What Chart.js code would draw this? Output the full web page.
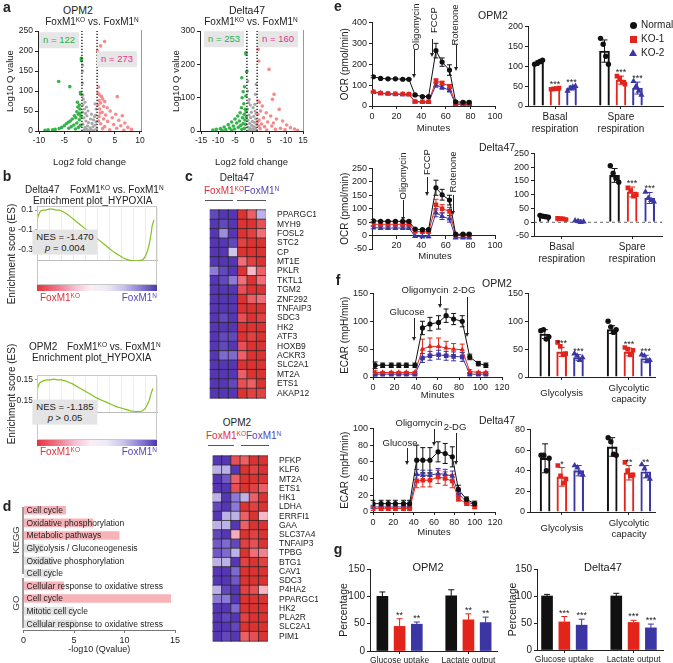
<!DOCTYPE html>
<html>
<head>
<meta charset="utf-8">
<script src="https://cdn.jsdelivr.net/npm/chart.js@4.4.1/dist/chart.umd.min.js"></script>
<style>
  body { margin: 0; width: 673px; height: 663px; position: relative; background: #fff; overflow: hidden;
         font-family: "Liberation Sans", Arial, sans-serif; color: #222; }
  canvas { position: absolute; }
  .t { position: absolute; white-space: nowrap; line-height: 1; }
  .s { font-size: 65%; position: relative; top: -0.45em; }
</style>
</head>
<body>
<script>
// ---------------- data ----------------
// a: volcano points [log2 fold change, log10 Q]
const opmDown = [[-6.1,124],[-3.9,111],[-1.6,182],[-1.6,176],[-1.8,96],[-1.7,92],[-2.4,72],[-2.0,65],[-2.3,60],[-1.9,55],[-2.5,48],[-1.9,44],[-2.2,42],[-3.0,38],[-1.7,36],[-2.7,33],[-3.4,30],[-2.0,28],[-3.8,25],[-4.2,22],[-2.5,20],[-4.6,18],[-3.1,15],[-1.8,14],[-5.0,13],[-3.6,11],[-5.5,9],[-2.2,9],[-4.1,7],[-6.0,6],[-2.8,5],[-6.8,4],[-7.3,3],[-8.2,3],[-8.8,2]];
const opmNs = [[-1.35,165],[-1.4,150],[-1.4,120],[-1.3,90],[-1.2,80],[-0.9,72],[-1.3,65],[-0.6,60],[-1.0,55],[-0.3,50],[-1.4,47],[-0.8,44],[0.4,42],[1.2,40],[-0.5,38],[1.0,36],[-1.1,33],[0.2,30],[0.8,28],[-0.7,25],[1.3,23],[-0.2,21],[0.5,19],[-1.3,17],[1.1,15],[-0.4,13],[0.7,11],[-0.9,9],[0.1,8],[1.4,6],[-0.6,5],[0.3,4],[-1.1,3],[0.9,2],[-0.1,1],[0.6,1],[-0.5,2],[1.3,55],[1.1,68]];
const opmUp = [[1.6,200],[2.2,213],[3.0,224],[1.8,110],[5.5,86],[1.7,95],[2.0,90],[2.4,86],[2.6,80],[1.9,76],[3.0,74],[2.2,70],[1.7,65],[2.8,62],[3.5,58],[2.0,55],[4.1,50],[2.5,47],[2.1,45],[5.2,42],[3.2,40],[6.5,38],[1.9,36],[4.5,33],[2.8,30],[5.8,27],[1.8,25],[3.6,24],[7.0,20],[2.2,18],[4.8,16],[6.2,13],[3.0,11],[7.6,9],[5.4,7],[2.6,6],[8.3,4],[4.0,3],[6.8,2]];
const dltDown = [[-3.0,160],[-1.8,235],[-1.8,231],[-1.6,178],[-2.2,133],[-2.6,118],[-1.8,105],[-2.9,100],[-2.4,82],[-3.1,70],[-2.0,65],[-1.7,58],[-3.5,55],[-2.3,50],[-4.2,45],[-1.7,42],[-2.8,40],[-5.0,36],[-2.1,33],[-3.7,30],[-6.0,27],[-4.5,24],[-2.6,22],[-1.9,20],[-7.0,19],[-3.3,17],[-5.5,15],[-8.2,12],[-4.0,11],[-6.6,9],[-2.2,8],[-9.3,7],[-5.1,6],[-3.0,5],[-10.5,5],[-7.7,4],[-11.5,3],[-6.0,3],[-8.8,2]];
const dltNs = [[-1.4,180],[-1.2,150],[1.2,140],[-1.3,120],[1.0,110],[-0.8,95],[-1.0,85],[0.8,80],[-0.5,78],[0.3,70],[-1.3,66],[0.9,60],[-0.2,56],[1.2,52],[-0.9,48],[0.5,44],[-0.4,40],[1.1,36],[-1.2,32],[0.1,29],[0.7,26],[-0.7,23],[1.3,20],[-0.1,17],[0.4,14],[-1.1,12],[0.9,10],[-0.5,8],[0.2,6],[1.2,4],[-0.8,3],[0.6,2],[-0.3,1]];
const dltUp = [[1.8,245],[2.0,210],[5.0,185],[6.5,110],[6.0,95],[1.8,90],[2.2,86],[3.0,75],[8.0,65],[2.5,60],[4.2,55],[1.7,50],[5.5,45],[3.4,40],[7.2,36],[2.1,33],[9.0,30],[1.7,28],[4.6,27],[6.3,24],[2.8,21],[10.2,18],[2.0,15],[5.8,15],[3.7,13],[11.3,10],[8.4,8],[2.4,7],[12.5,6],[6.9,5],[9.7,4],[4.3,3],[13.4,2]];
const foldCut = 1.5;
const opmXTicks = [-10, -5, 0, 5, 10];
const opmXLabels = ['-10', '-5', '0', '5', '10'];
const dltXTicks = [-15, -10, -5, 0, 5, 10, 15];
const dltXLabels = ['-15', '-10', '-5', '0', '5', '-10', '15'];

// b: GSEA running enrichment score (rank %) and hit positions
const dltEsX = [0,1,2,3,5,7,10,13,16,19,22,25,28,32,36,40,44,48,52,56,60,64,68,72,76,80,84,88,90,92,93.5,95,96,97.5];
const dltEsY = [0,0.04,0.07,0.09,0.1,0.1,0.11,0.11,0.1,0.1,0.08,0.06,0.03,-0.01,-0.05,-0.09,-0.13,-0.17,-0.21,-0.25,-0.29,-0.33,-0.36,-0.39,-0.41,-0.42,-0.42,-0.41,-0.38,-0.32,-0.25,-0.15,-0.06,0.0];
const dltHits = [0.5,1.2,2,3.1,3.8,4.5,5.6,6.3,7.5,8.2,9,10.4,11.2,12.5,13.1,14.6,15.8,17,18.3,19.5,21,22.4,23.8,25.5,27,28.6,30.4,32,34.5,36.8,39,41.5,44,47,50.5,53,56,58.5,61,63.5,66,68,70.5,72.8,75,77,79,81,82.5,84,85.5,86.8,88,89.2,90.3,91.4,92.3,93.2,94,94.8,95.5,96.2,96.8,97.4];
const dltEsTicks = [0.1, 0.0, -0.1, -0.2, -0.3, -0.4];
const opmEsX = [0,1,2,4,6,8,11,14,17,20,23,26,30,34,38,42,46,50,54,58,62,66,70,74,78,82,86,88,90,92,93.5,95,96.5];
const opmEsY = [0,0.05,0.09,0.12,0.13,0.14,0.14,0.15,0.14,0.14,0.13,0.11,0.08,0.04,0,-0.04,-0.08,-0.12,-0.15,-0.18,-0.21,-0.24,-0.26,-0.28,-0.3,-0.31,-0.31,-0.3,-0.27,-0.21,-0.15,-0.06,0.02];
const opmHits = [0.8,1.5,2.4,3.2,4.1,5,5.9,6.8,7.9,9.1,10.3,11.5,12.8,14,15.5,17.2,18.8,20.6,22.5,24.3,26.4,28.7,31,33.6,36.2,39,42,45.1,48.5,52,55,58,61.5,64.5,67.2,70,72.6,75,77.3,79.5,81.4,83.2,84.8,86.3,87.7,89,90.1,91.2,92.2,93.1,94,94.8,95.6,96.3];
const opmEsTicks = [0.15, 0.0, -0.15, -0.30];

// c: heatmaps, z-score per sample (KO x3, N x3)
const dltGenes = ['PPARGC1A','MYH9','FOSL2','STC2','CP','MT1E','PKLR','TKTL1','TGM2','ZNF292','TNFAIP3','SDC3','HK2','ATF3','HOXB9','ACKR3','SLC2A1','MT2A','ETS1','AKAP12'];
const dltZ = [
  [-0.8,-0.9,-0.9,0.9,0.6,-0.2],[-0.9,-0.8,-0.9,0.9,0.9,0.7],[-0.9,-0.4,-0.9,0.9,0.8,0.5],[-0.9,-0.9,-0.8,0.8,0.9,0.9],
  [-0.9,-0.9,-0.1,0.9,0.9,0.9],[-0.9,-0.9,-0.9,0.5,0.8,0.9],[-0.5,-0.8,-0.9,0.9,0.15,0.6],[-0.9,-0.8,-0.5,0.5,0.9,0.5],
  [-0.9,-0.9,-0.9,0.7,0.9,0.9],[-0.9,-0.9,-0.9,0.9,0.6,0.5],[-0.9,-0.9,-0.9,0.9,0.9,0.9],[-0.9,-0.8,-0.9,0.7,0.9,0.8],
  [-0.9,-0.9,-0.9,0.9,0.9,0.9],[-0.9,-0.8,-0.8,0.9,0.8,0.9],[-0.9,-0.8,-0.9,0.7,0.9,0.9],[-0.9,-0.6,-0.6,0.6,0.9,0.9],
  [-0.9,-0.9,-0.9,0.9,0.9,0.9],[-0.9,-0.9,-0.9,0.6,0.9,0.9],[-0.9,-0.9,-0.8,0.7,0.6,0.9],[-0.9,-0.9,-0.9,0.9,0.8,0.8]];
const opmGenes = ['PFKP','KLF6','MT2A','ETS1','HK1','LDHA','ERRFI1','GAA','SLC37A4','TNFAIP3','TPBG','BTG1','CAV1','SDC3','P4HA2','PPARGC1A','HK2','PLA2R','SLC2A1','PIM1'];
const opmZ = [
  [-0.9,-0.9,0.7,0.6,0.9,0.9],[-0.2,-0.2,-0.9,0.9,0.8,0.9],[-0.9,-0.7,0.6,0.9,0.9,0.9],[-0.9,-0.9,0.7,0.9,0.8,0.6],
  [-0.2,-0.9,-0.5,-0.2,0.6,0.9],[-0.8,-0.9,-0.5,0.9,0.8,0.9],[-0.9,-0.2,-0.2,0.6,0.9,0.15],[-0.2,-0.2,-0.9,0.6,0.9,0.9],
  [-0.8,-0.9,0.2,0.9,0.8,0.9],[-0.7,-0.6,-0.8,0.8,0.7,0.9],[-0.7,-0.6,-0.2,0.9,0.5,0.4],[-0.2,-0.2,-0.9,0.8,0.9,0.8],
  [-0.9,-0.9,-0.6,0.9,0.9,0.9],[-0.9,-0.9,-0.7,0.9,0.9,0.9],[-0.2,-0.8,-0.9,0.8,0.7,0.15],[-0.5,-0.5,-0.9,0.9,0.9,0.9],
  [-0.9,-0.9,-0.6,0.9,0.9,0.9],[-0.9,-0.8,-0.9,0.8,0.9,0.9],[-0.9,-0.9,-0.8,0.9,0.9,0.9],[-0.9,-0.8,-0.9,0.6,0.7,0.9]];

// d: enrichment terms
const dTerms = ['Cell cycle','Oxidative phosphorylation','Metabolic pathways','Glycolysis / Gluconeogenesis','Oxidative phosphorylation','Cell cycle','Cellular response to oxidative stress','Cell cycle','Mitotic cell cycle','Cellular response to oxidative stress'];
const dVals = [4.2, 6.9, 9.5, 2.0, 3.0, 3.0, 4.0, 14.6, 5.0, 5.3];
const dDir = ['up','up','up','down','down','down','up','up','down','down'];

// e: OCR time courses (Normal, KO-1, KO-2)
const ocrT = [1,7,13,19,25,30,35,41,46,52,57,63,68,74,79];
const ocrOpm = [[140,132,130,130,128,128,53,45,45,265,210,172,20,18,18],[68,62,60,58,57,56,22,20,20,120,110,95,10,10,10],[66,60,58,56,55,55,20,19,19,100,90,75,8,8,8]];
const ocrOpmSd = [[5,3,3,3,3,3,4,4,4,35,20,25,5,5,5],[4,3,3,3,3,3,3,3,3,10,8,8,3,3,3],[4,3,3,3,3,3,3,3,3,10,10,8,3,3,3]];
const ocrDlt = [[55,53,53,53,53,53,24,22,22,178,152,132,5,5,5],[42,42,42,42,42,42,15,14,14,115,100,90,2,2,2],[30,28,28,28,28,28,-3,-4,-4,85,72,62,-8,-8,-8]];
const ocrDltSd = [[4,3,3,3,3,3,3,3,3,28,20,18,3,3,3],[5,5,5,5,5,5,4,4,4,20,15,15,3,3,3],[5,5,5,5,5,5,4,4,4,15,12,12,3,3,3]];
// bars: Basal N, KO-1, KO-2, Spare N, KO-1, KO-2
const ocrOpmMean = [110, 43, 45, 138, 65, 45];
const ocrOpmBarSd = [4, 3, 5, 28, 10, 15];
const ocrOpmReps = [[105,107,112,115],[42,43,44,45],[38,45,48,50],[170,155,125,105],[75,70,60,55],[62,50,38,28]];
const ocrDltMean = [22, 12, 3, 170, 110, 88];
const ocrDltBarSd = [5, 3, 5, 25, 18, 20];
const ocrDltReps = [[25,22,20,18],[14,13,12,10],[6,4,0,2],[205,178,160,145],[125,115,95,100],[110,88,80,75]];
const ocrSigOpm = ['', '***', '***', '', '***', '***'];
const ocrSigDlt = ['', '', '', '', '***', '***'];
const ocrLabels = [['Basal', 'respiration'], ['Spare', 'respiration']];

// f: ECAR time courses
const ecarOpmT = [2,9,17,24,31,39,46,53,61,68,75,83,90,98,105];
const ecarOpm = [[21,21,21,21,21,21,88,95,98,110,104,100,36,24,21],[8,8,8,8,8,8,50,55,55,52,50,49,10,8,8],[5,5,5,5,5,5,34,38,40,38,37,36,5,5,5]];
const ecarOpmSd = [[6,4,4,4,4,4,12,12,12,12,10,10,5,4,4],[3,2,2,2,2,2,18,15,15,12,10,10,3,2,2],[3,2,2,2,2,2,8,8,8,8,8,8,2,2,2]];
const ecarDltT = [0,8,15,22,30,36,43,49,56,64,71,78,84,92,100];
const ecarDlt = [[10,10,10,10,10,10,62,62,62,72,70,66,27,15,10],[4,4,4,4,4,4,37,38,38,42,40,37,16,10,6],[6,6,6,6,6,6,45,44,44,46,45,43,22,12,9]];
const ecarDltSd = [[4,4,4,4,4,4,18,15,15,12,12,12,5,3,3],[2,2,2,2,2,2,8,8,8,8,8,8,3,2,2],[2,2,2,2,2,2,6,6,6,6,6,6,3,2,2]];
const ecarOpmMean = [77, 45, 35, 85, 45, 33];
const ecarOpmBarSd = [8, 8, 5, 7, 7, 6];
const ecarOpmReps = [[83,85,68,72],[62,55,40,42],[42,38,30,35],[100,90,80,85],[53,50,40,48],[40,38,28,30]];
const ecarDltMean = [52, 34, 40, 63, 38, 39];
const ecarDltBarSd = [14, 9, 5, 9, 7, 6];
const ecarDltReps = [[55,55,40,52],[45,35,28,32],[45,43,38,36],[72,68,56,55],[48,40,35,36],[46,42,35,32]];
const ecarSigOpm = ['', '***', '***', '', '***', '***'];
const ecarSigDlt = ['', '*', '', '', '**', '**'];
const ecarLabels = ['Glycolysis', ['Glycolytic', 'capacity']];

// g: glucose uptake / lactate output (%)
const gOpmMean = [100, 45, 49, 101, 57, 52];
const gOpmSd = [8, 14, 4, 11, 11, 10];
const gDltMean = [100, 52, 46, 100, 51, 41];
const gDltSd = [3, 10, 11, 5, 4, 7];
const gSigOpm = ['', '**', '**', '', '**', '**'];
const gSigDlt = ['', '***', '***', '', '***', '***'];
const gLabels = ['Glucose uptake', 'Lactate output'];

// ---------------- helpers ----------------
const RED = '#e3241b', BLUE = '#3b36a3', BLK = '#111';
const FONT = '"Liberation Sans", Arial, sans-serif';
Chart.defaults.font.family = FONT;
Chart.defaults.font.size = 9;
Chart.defaults.color = '#222';
Chart.defaults.plugins.legend.display = false;
Chart.defaults.plugins.tooltip.enabled = false;

const W = n => s => { s.width = n; };
const H = n => s => { s.height = n; };

function T(x, y, html, o = {}) {
  const d = document.createElement('div');
  d.className = 't';
  d.innerHTML = html;
  d.style.left = x + 'px';
  d.style.top = y + 'px';
  d.style.fontSize = (o.size || 10) + 'px';
  if (o.color) d.style.color = o.color;
  if (o.bold) d.style.fontWeight = 'bold';
  if (o.bg) { d.style.background = o.bg; d.style.padding = o.pad || '3px 4px'; d.style.textAlign = 'center'; d.style.lineHeight = o.lh || '1'; }
  const ax = o.align === 'left' ? '0' : o.align === 'right' ? '-100%' : '-50%';
  d.style.transform = 'translate(' + ax + ',-50%)' + (o.rot ? ' rotate(' + o.rot + 'deg)' : '');
  document.body.appendChild(d);
  return d;
}
function box(x, y, w, h, css) {
  const d = document.createElement('div');
  Object.assign(d.style, { position: 'absolute', left: x + 'px', top: y + 'px', width: w + 'px', height: h + 'px' }, css);
  document.body.appendChild(d);
  return d;
}
function arrow(x, y1, y2) {
  box(x - 0.5, y1, 1, y2 - y1 - 3, { background: '#222' });
  box(x - 2.5, y2 - 4, 0, 0, { borderLeft: '2.5px solid transparent', borderRight: '2.5px solid transparent', borderTop: '4px solid #222' });
}
function sym(x, y, kind, col) {
  if (kind === 'circle') box(x - 3.5, y - 3.5, 7, 7, { background: col, borderRadius: '50%' });
  else if (kind === 'rect') box(x - 3.5, y - 3.5, 7, 7, { background: col });
  else box(x - 4, y - 4, 0, 0, { borderLeft: '4px solid transparent', borderRight: '4px solid transparent', borderBottom: '7px solid ' + col });
}
const fox = s => 'FoxM1<span class="s">' + s + '</span>';

function place(b, cfg) {
  const c = document.createElement('canvas');
  c.width = b.x1 - b.x0 + b.l + b.r;
  c.height = b.y1 - b.y0 + b.t + b.b;
  c.style.left = (b.x0 - b.l) + 'px';
  c.style.top = (b.y0 - b.t) + 'px';
  document.body.appendChild(c);
  cfg.options = Object.assign({ responsive: false, animation: false, maintainAspectRatio: false }, cfg.options);
  return new Chart(c, cfg);
}

function axis(o) {
  const s = {
    type: 'linear', min: o.min, max: o.max, offset: false,
    grid: { drawOnChartArea: false, tickLength: 3, color: o.col || '#222', offset: false },
    border: { color: o.col || '#222', width: 1, dash: o.dash || [] },
    ticks: { font: { size: o.fs || 9 }, color: '#222', padding: o.tp || 2, stepSize: o.step, autoSkip: false, maxRotation: 0 },
  };
  if (o.fit) s.afterFit = o.fit;
  if (o.pos) s.position = o.pos;
  if (o.cross) s.ticks.crossAlign = o.cross;
  if (o.vals) s.afterBuildTicks = sc => { sc.ticks = o.vals.map(v => ({ value: v })); };
  if (o.fmt) s.ticks.callback = o.fmt;
  if (o.title) s.title = { display: true, text: o.title, color: '#222', font: { size: o.tfs || 9.5 }, padding: o.tpad || 0 };
  return s;
}

// error bars (and significance stars) drawn from each dataset's err array
function drawErr(chart, behind) {
  const ctx = chart.ctx;
  chart.data.datasets.forEach((ds, i) => {
    if (!ds.err || !!ds.errBehind !== behind) return;
    const meta = chart.getDatasetMeta(i);
    const ys = chart.scales[meta.yAxisID];
    meta.data.forEach((el, j) => {
      const e = ds.err[j];
      if (e == null) return;
      const v = ds.data[j].y;
      const col = Array.isArray(ds.errColor) ? ds.errColor[j] : ds.errColor;
      const top = ys.getPixelForValue(v + e);
      const bot = ds.errUp ? el.y : ys.getPixelForValue(v - e);
      const cw = ds.capW || 2.5;
      ctx.save();
      ctx.strokeStyle = col;
      ctx.lineWidth = 1;
      ctx.beginPath();
      ctx.moveTo(el.x, top); ctx.lineTo(el.x, bot);
      ctx.moveTo(el.x - cw, top); ctx.lineTo(el.x + cw, top);
      if (!ds.errUp) { ctx.moveTo(el.x - cw, bot); ctx.lineTo(el.x + cw, bot); }
      ctx.stroke();
      if (ds.sig && ds.sig[j]) {
        ctx.fillStyle = '#222';
        ctx.font = '9px ' + FONT;
        ctx.textAlign = 'center';
        ctx.textBaseline = 'bottom';
        ctx.fillText(ds.sig[j], el.x, top + 1);
      }
      ctx.restore();
    });
  });
}
Chart.register({
  id: 'errBars',
  beforeDatasetsDraw(chart) { drawErr(chart, true); },
  afterDatasetsDraw(chart) { drawErr(chart, false); }
});

// ---------------- panel a ----------------
function volcano(b, down, ns, up, o) {
  const pts = a => a.map(p => ({ x: p[0], y: p[1] }));
  const cut = s => ({ type: 'line', data: [{ x: s * foldCut, y: 0 }, { x: s * foldCut, y: o.max }], borderColor: '#111',
    borderWidth: 1.3, borderDash: [1.3, 1.7], pointRadius: 0, order: 0 });
  place(b, {
    type: 'scatter',
    data: { datasets: [
      { data: pts(up), backgroundColor: '#f68b8b', pointRadius: 1.8, borderWidth: 0, order: 2 },
      { data: pts(down), backgroundColor: '#35b44a', pointRadius: 1.8, borderWidth: 0, order: 1 },
      { data: pts(ns), backgroundColor: '#a8a8a8', pointRadius: 1.6, borderWidth: 0, order: 3 },
      cut(-1), cut(1)
    ] },
    options: {
      layout: { padding: { left: 0, top: b.t, right: b.r, bottom: 0 } },
      scales: {
        x: axis({ min: o.xmin, max: o.xmax, vals: o.xv, fmt: (v, i) => o.xl[i], fit: H(b.b), dash: [1.3, 1.7], fs: 8.5, title: 'Log2 fold change' }),
        y: axis({ min: 0, max: o.max, step: o.step, fit: W(b.l), fs: 8.5, title: 'Log10 Q value' })
      }
    }
  });
  box(b.x1, b.y0, 1, b.y1 - b.y0, { background: '#999' });
}
volcano({ x0: 38, y0: 30, x1: 141, y1: 131, l: 33, r: 8, t: 6, b: 37 }, opmDown, opmNs, opmUp,
  { xmin: -10.2, xmax: 10.2, max: 250, step: 50, xv: opmXTicks, xl: opmXLabels });
volcano({ x0: 200, y0: 30, x1: 303, y1: 131, l: 29, r: 8, t: 6, b: 37 }, dltDown, dltNs, dltUp,
  { xmin: -15.3, xmax: 15, max: 300, step: 100, xv: dltXTicks, xl: dltXLabels });

T(78, 10, 'OPM2', { size: 10.5 });
T(92, 22, fox('KO') + ' vs. ' + fox('N'), { size: 10 });
T(247, 10, 'Delta47', { size: 10.5 });
T(251, 22, fox('KO') + ' vs. ' + fox('N'), { size: 10 });
T(59, 40, 'n = 122', { size: 9.5, color: '#2fae48', bg: '#e6e6e6' });
T(117, 59, 'n = 273', { size: 9.5, color: '#e3348c', bg: '#e6e6e6' });
T(224, 39, 'n = 253', { size: 9.5, color: '#2fae48', bg: '#e6e6e6' });
T(278, 39, 'n = 160', { size: 9.5, color: '#e3348c', bg: '#e6e6e6' });

// ---------------- panel b ----------------
function gsea(b, xs, es, yMin, yMax, ticks, dec) {
  place(b, {
    type: 'scatter',
    data: { datasets: [{ data: xs.map((x, i) => ({ x, y: es[i] })), showLine: true, borderColor: '#82c21f', borderWidth: 1.2, pointRadius: 0 }] },
    options: {
      layout: { padding: { left: 0, top: b.t, right: b.r, bottom: 0 } },
      scales: {
        x: { min: 0, max: 100, ticks: { display: false, stepSize: 10 }, grid: { color: '#ececec', drawTicks: false }, border: { color: '#bbb' }, afterFit: H(0) },
        y: { min: yMin, max: yMax, afterBuildTicks: s => { s.ticks = ticks.map(v => ({ value: v })); },
             ticks: { callback: v => v.toFixed(dec), font: { size: 8.5 }, padding: 2, color: '#222' },
             grid: { drawOnChartArea: false, tickLength: 2, color: '#999' }, border: { color: '#bbb' }, afterFit: W(b.l) }
      }
    }
  });
}
function barcode(b, hits) {
  place(b, {
    type: 'scatter',
    data: { datasets: [{ data: hits.map(h => ({ x: h, y: 0 })), pointStyle: 'line', rotation: 90, pointRadius: (b.y1 - b.y0) / 2,
      borderColor: '#151515', borderWidth: 0.9 }] },
    options: { layout: { padding: 0 }, scales: { x: { display: false, min: 0, max: 100 }, y: { display: false, min: -1, max: 1 } } }
  });
}
const grad = 'linear-gradient(90deg,#e8333b 0%,#f07b8c 18%,#f6c6d8 33%,#fbeef4 45%,#eeeaf8 58%,#c9c2ec 72%,#8a7fd4 86%,#4a38b0 100%)';

gsea({ x0: 37, y0: 206, x1: 157, y1: 268, l: 22, r: 4, t: 5, b: 0 }, dltEsX, dltEsY, -0.42, 0.12, dltEsTicks, 1);
barcode({ x0: 37, y0: 268, x1: 157, y1: 285, l: 0, r: 0, t: 0, b: 0 }, dltHits);
box(37, 206, 120, 79, { border: '1px solid #c8c8c8', boxSizing: 'border-box' });
box(37, 285, 120, 6, { background: grad });
T(25, 190, 'Delta47', { size: 10, align: 'left' });
T(70, 190, fox('KO') + ' vs. ' + fox('N'), { size: 10, align: 'left' });
T(33, 201, 'Enrichment plot_HYPOXIA', { size: 10, align: 'left' });
T(12, 254, 'Enrichment score (ES)', { size: 10, rot: -90 });
T(65, 242, 'NES = -1.470<br><i>p</i> = 0.004', { size: 9.5, bg: '#e4e4e4', lh: '1.2', pad: '1px 4px' });
T(40, 298, fox('KO'), { size: 10, color: '#e0303c', align: 'left' });
T(157, 298, fox('N'), { size: 10, color: '#5546b6', align: 'right' });

gsea({ x0: 37, y0: 375, x1: 157, y1: 420, l: 22, r: 4, t: 5, b: 0 }, opmEsX, opmEsY, -0.33, 0.18, opmEsTicks, 2);
barcode({ x0: 37, y0: 420, x1: 157, y1: 440, l: 0, r: 0, t: 0, b: 0 }, opmHits);
box(37, 375, 120, 65, { border: '1px solid #c8c8c8', boxSizing: 'border-box' });
box(37, 440, 120, 6, { background: grad });
T(29, 347, 'OPM2', { size: 10, align: 'left' });
T(67, 347, fox('KO') + ' vs. ' + fox('N'), { size: 10, align: 'left' });
T(32, 358, 'Enrichment plot_HYPOXIA', { size: 10, align: 'left' });
T(12, 394, 'Enrichment score (ES)', { size: 10, rot: -90 });
T(65, 412, 'NES = -1.185<br><i>p</i> &gt; 0.05', { size: 9.5, bg: '#e4e4e4', lh: '1.2', pad: '1px 4px' });
T(40, 452, fox('KO'), { size: 10, color: '#e0303c', align: 'left' });
T(157, 452, fox('N'), { size: 10, color: '#5546b6', align: 'right' });

// ---------------- panel c ----------------
function mix(a, b, t) { return a.map((x, i) => Math.round(x + (b[i] - x) * t)); }
function heatCol(v) {
  const neg = [[222, 216, 242], [140, 122, 214], [72, 38, 170]];
  const pos = [[250, 214, 228], [240, 110, 120], [214, 36, 32]];
  const s = v < 0 ? neg : pos, a = Math.min(Math.abs(v), 1);
  const c = a < 0.5 ? mix(s[0], s[1], a / 0.5) : mix(s[1], s[2], (a - 0.5) / 0.5);
  return 'rgb(' + c.join(',') + ')';
}
function heat(b, genes, z) {
  const cells = [], cols = [];
  z.forEach((row, r) => row.forEach((v, c) => { cells.push({ x: c, y: genes[r] }); cols.push(heatCol(v)); }));
  const side = Math.min((b.x1 - b.x0) / 6, (b.y1 - b.y0) / genes.length);
  place(b, {
    type: 'scatter',
    data: { datasets: [{ data: cells, backgroundColor: cols, pointStyle: 'rect', pointRadius: side / Math.SQRT2, borderColor: '#222', borderWidth: 0.7 }] },
    options: {
      layout: { padding: { left: b.l, top: b.t, right: 0, bottom: b.b } },
      scales: {
        x: { display: false, min: -0.5, max: 5.5 },
        y: { type: 'category', labels: genes, offset: true, position: 'right', grid: { display: false }, border: { display: false },
             ticks: { font: { size: 8.5 }, color: '#222', padding: 3, autoSkip: false }, afterFit: W(b.r) }
      }
    }
  });
}
heat({ x0: 204, y0: 204, x1: 266, y1: 404, l: 2, r: 50, t: 2, b: 2 }, dltGenes, dltZ);
heat({ x0: 207, y0: 450, x1: 268, y1: 647, l: 2, r: 50, t: 2, b: 2 }, opmGenes, opmZ);
T(237, 178, 'Delta47', { size: 10 });
T(204, 191, '<span style="color:#e0303c">' + fox('KO') + '</span><span style="color:#5546b6">' + fox('N') + '</span>', { size: 10, align: 'left' });
box(205, 200, 28, 1, { background: '#555' });
box(237, 200, 29, 1, { background: '#555' });
T(237, 423, 'OPM2', { size: 10 });
T(206, 436, '<span style="color:#e0303c">' + fox('KO') + '</span><span style="color:#5546b6">' + fox('N') + '</span>', { size: 10, align: 'left' });
box(208, 445, 26, 1, { background: '#555' });
box(241, 445, 28, 1, { background: '#555' });

// ---------------- panel d ----------------
const barText = {
  id: 'barText',
  afterDatasetsDraw(chart) {
    const ctx = chart.ctx, xs = chart.scales.x;
    ctx.save();
    ctx.font = '8.5px ' + FONT;
    ctx.fillStyle = '#222';
    ctx.textBaseline = 'middle';
    chart.getDatasetMeta(0).data.forEach((el, j) => ctx.fillText(chart.data.labels[j], xs.getPixelForValue(0) + 3, el.y + 0.5));
    ctx.restore();
  }
};
place({ x0: 23, y0: 504, x1: 175, y1: 630, l: 4, r: 8, t: 2, b: 25 }, {
  type: 'bar',
  data: { labels: dTerms, datasets: [{ data: dVals, backgroundColor: dDir.map(d => d === 'up' ? '#f7b3b8' : '#e2e2e2'), barPercentage: 0.68, categoryPercentage: 1 }] },
  options: {
    indexAxis: 'y',
    layout: { padding: { left: 4, top: 2, right: 8, bottom: 0 } },
    scales: {
      x: axis({ min: 0, max: 15, step: 5, col: '#777', fit: H(25), title: '-log10 (Qvalue)', tfs: 9 }),
      y: { display: false }
    }
  },
  plugins: [barText]
});
box(22, 507, 1.5, 67, { background: '#9a9a9a' });
box(22, 578, 1.5, 50, { background: '#9a9a9a' });
T(16, 540, 'KEGG', { size: 9.5, rot: -90, color: '#444' });
T(16, 603, 'GO', { size: 9.5, rot: -90, color: '#444' });

// ---------------- panels e / f: time courses ----------------
function lineChart(b, o) {
  const cols = [BLK, RED, BLUE];
  const marks = o.marks || [['circle', 2.6], ['rect', 3.2], ['triangle', 3.4]];
  const sets = o.series.map((s, k) => ({
    data: o.t.map((t, i) => ({ x: t, y: s[i] })), showLine: true, borderColor: cols[k], backgroundColor: cols[k],
    borderWidth: 1, pointStyle: marks[k][0], pointRadius: marks[k][1], pointBorderWidth: 0,
    err: o.sd[k], errColor: cols[k], errBehind: true, capW: 2.5, order: k
  }));
  const x = axis({ min: 0, max: o.xmax, step: 20, fit: o.xpos ? H(0) : H(b.b), title: o.xpos ? null : 'Minutes',
    fmt: o.xpos ? (v => v === 0 ? '' : String(v)) : undefined });
  if (o.xpos) x.position = o.xpos;
  place(b, {
    type: 'scatter',
    data: { datasets: sets },
    options: {
      layout: { padding: { left: 0, top: b.t, right: b.r, bottom: o.xpos ? b.b : 0 } },
      scales: { x, y: axis({ min: o.ymin, max: o.ymax, step: o.ystep, fit: W(b.l), title: o.ytitle, tfs: 10 }) }
    }
  });
}
function barChart(b, o) {
  const pos = [1, 2, 3, 5, 6, 7];
  const jit = [-0.24, -0.08, 0.08, 0.24];
  const cols = [BLK, RED, BLUE, BLK, RED, BLUE];
  const marks = [['circle', 2.7], ['rect', 3.3], ['triangle', 3.6]];
  const sets = [];
  if (o.reps) [0, 1, 2].forEach(k => {
    const pts = [];
    [k, k + 3].forEach(j => o.reps[j].forEach((v, m) => pts.push({ x: pos[j] + jit[m], y: v })));
    sets.push({ type: 'scatter', data: pts, pointStyle: marks[k][0], pointRadius: marks[k][1], backgroundColor: cols[k], borderWidth: 0, order: 0 });
  });
  sets.push({ type: 'bar', data: pos.map((p, j) => ({ x: p, y: o.means[j] })), backgroundColor: o.open ? 'rgba(255,255,255,0)' : cols,
    borderColor: cols, borderWidth: o.open ? 1.4 : 0, barThickness: o.bw || 10, err: o.sd, errColor: cols, errUp: !o.open,
    sig: o.sig, capW: 3, order: 1 });
  if (o.zero) sets.push({ type: 'line', data: [{ x: o.xmin, y: 0 }, { x: o.xmax, y: 0 }], borderColor: '#444', borderWidth: 0.8,
    borderDash: [3, 3], pointRadius: 0, order: 2 });
  place(b, {
    type: 'bar',
    data: { datasets: sets },
    options: {
      layout: { padding: { left: 0, top: b.t, right: b.r, bottom: 0 } },
      scales: {
        x: axis({ min: o.xmin, max: o.xmax, vals: [2, 6], fmt: (v, i) => o.labels[i], fit: H(b.b), fs: o.lfs || 10,
                  cross: o.cross, tp: o.cross ? 8 : 2 }),
        y: axis({ min: o.ymin || 0, max: o.ymax, step: o.ystep, fit: W(b.l), fs: o.yfs || 9, title: o.ytitle, tfs: 10.5 })
      }
    }
  });
}

// e: OCR
lineChart({ x0: 372, y0: 21, x1: 495, y1: 106, l: 33, r: 10, t: 6, b: 28 },
  { t: ocrT, series: ocrOpm, sd: ocrOpmSd, xmax: 100, ymin: 0, ymax: 400, ystep: 100, ytitle: 'OCR (pmol/min)' });
lineChart({ x0: 372, y0: 167, x1: 495, y1: 249, l: 33, r: 10, t: 6, b: 14 },
  { t: ocrT, series: ocrDlt, sd: ocrDltSd, xmax: 100, ymin: -50, ymax: 250, ystep: 50, ytitle: 'OCR (pmol/min)', xpos: { y: 0 } });
barChart({ x0: 528, y0: 25, x1: 663, y1: 106, l: 28, r: 8, t: 6, b: 30 },
  { means: ocrOpmMean, sd: ocrOpmBarSd, reps: ocrOpmReps, sig: ocrSigOpm, open: true, xmin: 0.36, xmax: 8.55, ymax: 200, ystep: 50, labels: ocrLabels });
barChart({ x0: 534, y0: 152, x1: 662, y1: 236, l: 30, r: 8, t: 6, b: 30 },
  { means: ocrDltMean, sd: ocrDltBarSd, reps: ocrDltReps, sig: ocrSigDlt, open: true, zero: true, xmin: 0.42, xmax: 7.7, ymin: -50, ymax: 250, ystep: 50, labels: ocrLabels });

T(493, 15, 'OPM2', { size: 10.5 });
T(416, 27, 'Oligomycin', { size: 9.5, rot: -90 }); arrow(414, 50, 78);
T(434, 20, 'FCCP', { size: 9.5, rot: -90 }); arrow(432, 39, 57);
T(455, 25, 'Rotenone', { size: 9.5, rot: -90 }); arrow(456, 45, 71);
T(497, 147, 'Delta47', { size: 10.5 });
T(403, 176, 'Oligomycin', { size: 9.5, rot: -90 }); arrow(403, 200, 221);
T(427, 162, 'FCCP', { size: 9.5, rot: -90 }); arrow(427, 177, 196);
T(453, 172, 'Rotenone', { size: 9.5, rot: -90 }); arrow(453, 195, 215);
T(435, 256, 'Minutes', { size: 9.5 });
sym(633, 25, 'circle', BLK); T(641, 25, 'Normal', { size: 10, align: 'left' });
sym(633, 39, 'rect', RED); T(641, 39, 'KO-1', { size: 10, align: 'left' });
sym(633, 53, 'tri', BLUE); T(641, 53, 'KO-2', { size: 10, align: 'left' });

// f: ECAR
lineChart({ x0: 373, y0: 292, x1: 502, y1: 377, l: 34, r: 10, t: 6, b: 24 },
  { t: ecarOpmT, series: ecarOpm, sd: ecarOpmSd, xmax: 120, ymin: 0, ymax: 150, ystep: 50, ytitle: 'ECAR (mpH/min)',
    marks: [['circle', 2.6], ['triangle', 3.2], ['rect', 3.2]] });
lineChart({ x0: 373, y0: 427, x1: 495, y1: 512, l: 34, r: 10, t: 6, b: 26 },
  { t: ecarDltT, series: ecarDlt, sd: ecarDltSd, xmax: 120, ymin: 0, ymax: 100, ystep: 20, ytitle: 'ECAR (mpH/min)' });
barChart({ x0: 528, y0: 292, x1: 655, y1: 377, l: 28, r: 10, t: 6, b: 32 },
  { means: ecarOpmMean, sd: ecarOpmBarSd, reps: ecarOpmReps, sig: ecarSigOpm, open: true, xmin: 0, xmax: 7.55, ymax: 150, ystep: 50, labels: ecarLabels, lfs: 9.5, cross: 'center' });
barChart({ x0: 530, y0: 428, x1: 655, y1: 512, l: 28, r: 10, t: 6, b: 32 },
  { means: ecarDltMean, sd: ecarDltBarSd, reps: ecarDltReps, sig: ecarSigDlt, open: true, xmin: 0.1, xmax: 7.55, ymax: 80, ystep: 20, labels: ecarLabels, lfs: 9.5, cross: 'center' });

T(497, 283, 'OPM2', { size: 10.5 });
T(425, 290, 'Oligomycin', { size: 9.5 }); arrow(440, 296, 308);
T(464, 290, '2-DG', { size: 9.5 }); arrow(467, 297, 337);
T(407, 312, 'Glucose', { size: 9.5 }); arrow(414, 318, 341);
T(497, 420, 'Delta47', { size: 10.5 });
T(419, 423, 'Oligomycin', { size: 9.5 }); arrow(434, 429, 446);
T(455, 427, '2-DG', { size: 9.5 }); arrow(456, 433, 465);
T(400, 443, 'Glucose', { size: 9.5 }); arrow(407, 448, 465);

// ---------------- panel g ----------------
barChart({ x0: 370, y0: 567, x1: 497, y1: 651, l: 32, r: 8, t: 6, b: 12 },
  { means: gOpmMean, sd: gOpmSd, sig: gSigOpm, bw: 11, xmin: 0.28, xmax: 7.66, ymax: 150, ystep: 50, labels: gLabels, lfs: 8.5, yfs: 10, ytitle: 'Percentage' });
barChart({ x0: 537, y0: 567, x1: 663, y1: 650, l: 30, r: 8, t: 6, b: 13 },
  { means: gDltMean, sd: gDltSd, sig: gSigDlt, bw: 11, xmin: 0.42, xmax: 7.7, ymax: 150, ystep: 50, labels: gLabels, lfs: 8.5, yfs: 10, ytitle: 'Percentage' });
T(428, 567, 'OPM2', { size: 11 });
T(603, 567, 'Delta47', { size: 11 });

// panel letters
[['a', 7, 7], ['b', 7, 176], ['c', 189, 176], ['d', 7, 506], ['e', 338, 6], ['f', 338, 280], ['g', 338, 549]]
  .forEach(p => T(p[1], p[2], p[0], { size: 14, bold: true }));
</script>
</body>
</html>
